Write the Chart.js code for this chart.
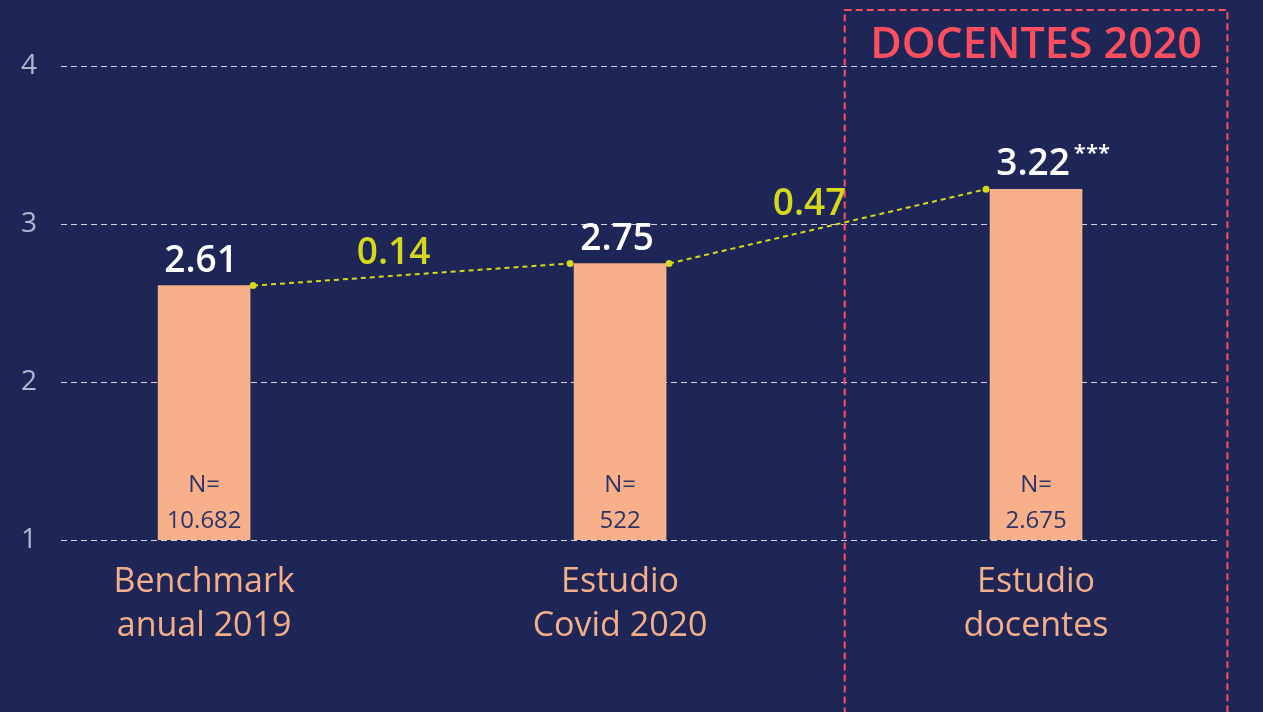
<!DOCTYPE html>
<html>
<head>
<meta charset="utf-8">
<script src="https://cdn.jsdelivr.net/npm/chart.js@4.4.0/dist/chart.umd.min.js"></script>
<style>
  html, body { margin: 0; padding: 0; background: #1e2657; }
  #wrap { width: 1263px; height: 712px; position: relative; }
</style>
</head>
<body>
<div id="wrap"><canvas id="myChart"></canvas></div>
<script>
// datos
const categorias = [['Benchmark', 'anual 2019'], ['Estudio', 'Covid 2020'], ['Estudio', 'docentes']];
const valores = [2.61, 2.75, 3.22];
const etiquetasValor = ['2.61', '2.75', '3.22'];
const significancia = ['', '', '***'];
const tamanosN = ['10.682', '522', '2.675'];
const diferencias = ['0.14', '0.47'];
const ticksY = [1, 2, 3, 4];
const tituloCaja = 'DOCENTES 2020';

const FUENTE = '"Open Sans", Lato, sans-serif';
const amarillo = '#d6d81c';
const rojo = '#ff4f5e';

// plugin para etiquetas, lineas de diferencia y caja de docentes
const extras = {
    id: 'extras',
    afterDatasetsDraw(chart) {
        const ctx = chart.ctx;
        const barras = chart.getDatasetMeta(0).data;
        const x = chart.scales.x;
        const y = chart.scales.y;
        ctx.save();

        // lineas punteadas entre barras
        for (let i = 0; i < barras.length - 1; i++) {
            const a = barras[i], b = barras[i + 1];
            const x1 = a.x + a.width / 2 + 3, y1 = a.y;
            const x2 = b.x - b.width / 2 - 4, y2 = b.y;
            ctx.strokeStyle = amarillo;
            ctx.lineWidth = 2;
            ctx.setLineDash([5, 4]);
            ctx.beginPath();
            ctx.moveTo(x1, y1);
            ctx.lineTo(x2, y2);
            ctx.stroke();
            ctx.setLineDash([]);
            ctx.fillStyle = amarillo;
            [[x1, y1], [x2, y2]].forEach(p => {
                ctx.beginPath();
                ctx.arc(p[0], p[1], 3.5, 0, Math.PI * 2);
                ctx.fill();
            });
            // etiqueta de diferencia
            ctx.font = '600 37px ' + FUENTE;
            ctx.textAlign = 'center';
            ctx.textBaseline = 'alphabetic';
            ctx.fillText(diferencias[i], (x1 + x2) / 2 - 18, (y1 + y2) / 2 - 11);
        }

        // valores encima de las barras y N dentro
        barras.forEach((bar, i) => {
            ctx.fillStyle = '#ffffff';
            ctx.font = '600 37px ' + FUENTE;
            ctx.textAlign = 'center';
            ctx.fillText(etiquetasValor[i], bar.x - 3, bar.y - 14);
            if (significancia[i]) {
                const w = ctx.measureText(etiquetasValor[i]).width;
                ctx.font = '600 22px ' + FUENTE;
                ctx.textAlign = 'left';
                ctx.fillText(significancia[i], bar.x - 3 + w / 2 + 4, bar.y - 29);
            }
            const base = y.getPixelForValue(y.min);
            ctx.fillStyle = '#2b3468';
            ctx.font = '24px ' + FUENTE;
            ctx.textAlign = 'center';
            ctx.fillText('N=', bar.x, base - 48);
            ctx.fillText(tamanosN[i], bar.x, base - 12);
        });

        // caja roja punteada
        const izq = x.getPixelForValue(1.54);
        const der = x.getPixelForValue(2.46);
        ctx.strokeStyle = rojo;
        ctx.lineWidth = 2;
        ctx.setLineDash([7, 4]);
        ctx.strokeRect(izq, 10, der - izq, chart.height);
        ctx.setLineDash([]);
        ctx.fillStyle = rojo;
        ctx.font = '600 43px ' + FUENTE;
        ctx.textAlign = 'center';
        ctx.fillText(tituloCaja, (izq + der) / 2, 58);

        ctx.restore();
    }
};

const grafico = new Chart(document.getElementById('myChart').getContext('2d'), {
    type: 'bar',
    data: {
        datasets: [{
            data: valores.map((v, i) => ({ x: i, y: v })),
            backgroundColor: '#f7b08a',
            barThickness: 92
        }]
    },
    options: {
        responsive: true,
        maintainAspectRatio: false,
        animation: false,
        layout: { padding: { top: 66, right: 46, left: 0, bottom: 0 } },
        plugins: { legend: { display: false }, tooltip: { enabled: false } },
        scales: {
            x: {
                type: 'linear',
                offset: false,
                min: -0.344,
                max: 2.435,
                afterBuildTicks: (s) => { s.ticks = categorias.map((c, i) => ({ value: i })); },
                afterFit: (s) => { s.height = 172; },
                grid: { display: false, drawTicks: false, offset: false },
                border: { display: false },
                ticks: {
                    padding: 21,
                    color: '#f4ae88',
                    font: { family: FUENTE, size: 34, lineHeight: 1.28 },
                    callback: (v) => categorias[v]
                }
            },
            y: {
                min: 1,
                max: 4,
                afterBuildTicks: (s) => { s.ticks = ticksY.map(v => ({ value: v })); },
                afterFit: (s) => { s.width = 61; },
                grid: {
                    color: 'rgba(230,233,246,0.9)',
                    lineWidth: 1,
                    drawTicks: false
                },
                border: { display: false, dash: [6, 4] },
                ticks: {
                    padding: 24,
                    color: '#b0b7d2',
                    font: { family: '"Open Sans", sans-serif', size: 28 }
                }
            }
        }
    },
    plugins: [extras]
});
</script>
</body>
</html>
